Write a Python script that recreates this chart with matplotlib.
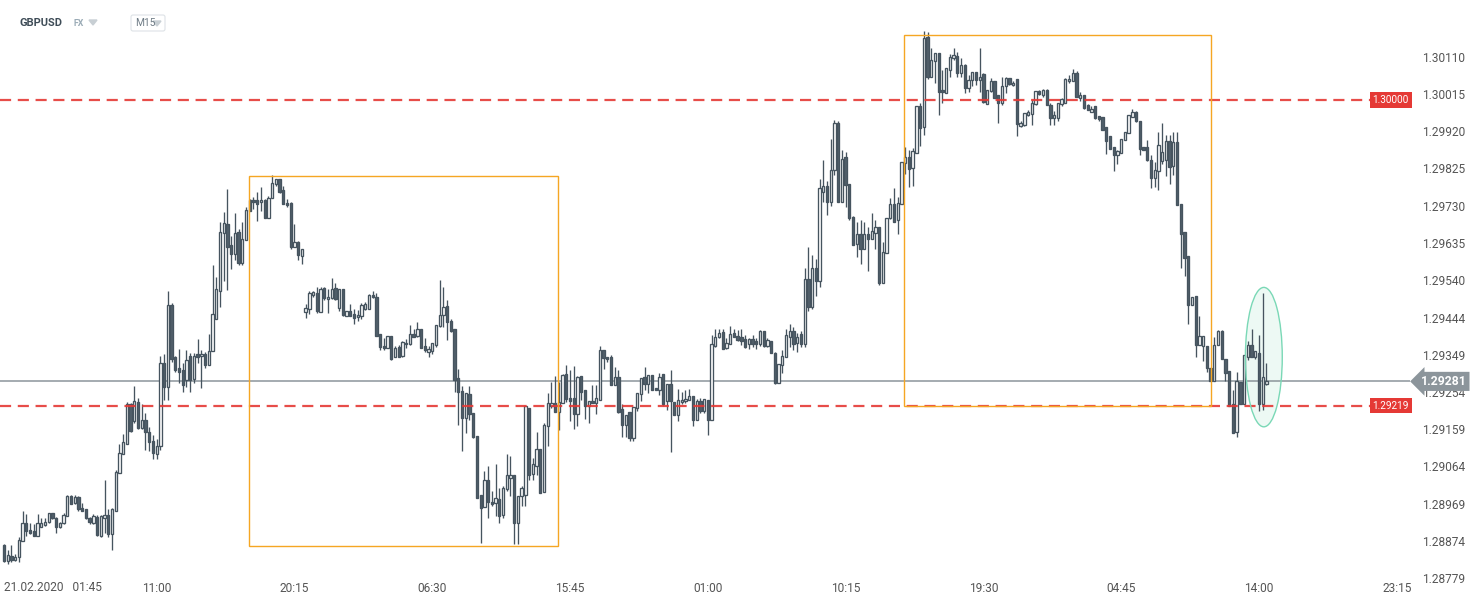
import numpy as np
import matplotlib
matplotlib.use("Agg")
import matplotlib.pyplot as plt
import matplotlib.transforms as mtransforms
from matplotlib.patches import Rectangle, Ellipse, FancyBboxPatch, Polygon

plt.rcParams["font.family"] = ["Roboto", "DejaVu Sans"]

# ---------------- DATA ----------------
# GBPUSD M15 candles, prices stored as points above 1.00000 (1 pt = 0.00001)
open_pts = [
    28862, 28822, 28834, 28824, 28832, 28874, 28919, 28902, 28898, 28887,
    28910, 28915, 28923, 28945, 28931, 28910, 28919, 28937, 28988, 28971,
    28986, 28958, 28954, 28933, 28919, 28935, 28885, 28932, 28940, 28891,
    28950, 29047, 29095, 29120, 29224, 29179, 29228, 29163, 29182, 29153,
    29128, 29096, 29117, 29329, 29267, 29475, 29342, 29315, 29310, 29284,
    29347, 29286, 29350, 29345, 29350, 29323, 29358, 29441, 29511, 29659,
    29682, 29630, 29606, 29663, 29583, 29642, 29743, 29743, 29743, 29738,
    29744, 29699, 29749, 29784, 29799, 29770, 29737, 29736, 29625, 29638,
    29601, 29458, 29467, 29502, 29507, 29458, 29520, 29492, 29495, 29520,
    29468, 29517, 29448, 29462, 29454, 29445, 29448, 29467, 29467, 29502,
    29496, 29401, 29371, 29367, 29396, 29342, 29369, 29345, 29376, 29376,
    29401, 29396, 29416, 29372, 29356, 29359, 29373, 29422, 29450, 29473,
    29435, 29416, 29289, 29257, 29187, 29249, 29200, 29142, 28990, 28960,
    29030, 28974, 28971, 28981, 28941, 29005, 29035, 29043, 28920, 28988,
    28992, 29214, 29045, 29066, 29108, 28998, 29166, 29217, 29227, 29204,
    29227, 29299, 29238, 29238, 29197, 29296, 29259, 29217, 29231, 29227,
    29234, 29362, 29342, 29342, 29272, 29293, 29211, 29169, 29204, 29137,
    29213, 29249, 29291, 29275, 29298, 29264, 29258, 29300, 29230, 29275,
    29229, 29194, 29228, 29230, 29234, 29244, 29183, 29230, 29205, 29234,
    29183, 29372, 29394, 29406, 29366, 29376, 29404, 29397, 29394, 29388,
    29376, 29389, 29383, 29376, 29410, 29372, 29384, 29353, 29278, 29323,
    29343, 29394, 29410, 29380, 29401, 29376, 29543, 29470, 29571, 29537,
    29765, 29781, 29740, 29820, 29942, 29740, 29853, 29784, 29702, 29632,
    29657, 29619, 29657, 29644, 29659, 29676, 29532, 29610, 29698, 29735,
    29692, 29733, 29839, 29853, 29826, 29864, 29985, 29931, 30161, 30058,
    30100, 30119, 30024, 30017, 30076, 30106, 30113, 30068, 30089, 30031,
    30051, 30072, 30051, 30065, 29990, 30023, 30047, 30011, 29991, 30034,
    30055, 30038, 30053, 29932, 29936, 29962, 29964, 29990, 30023, 30013,
    30025, 29987, 29953, 29953, 29989, 29991, 30047, 30048, 30069, 30004,
    30011, 29987, 29970, 29983, 29958, 29957, 29930, 29907, 29879, 29860,
    29864, 29898, 29915, 29957, 29968, 29946, 29879, 29879, 29847, 29801,
    29819, 29843, 29845, 29896, 29830, 29892, 29733, 29663, 29602, 29475,
    29498, 29375, 29371, 29371, 29315, 29282, 29375, 29409, 29337, 29307,
    29223, 29153, 29280, 29223, 29342, 29375, 29343, 29354, 29223, 29274,
]
high_pts = [
    28866, 28851, 28864, 28841, 28883, 28950, 28943, 28920, 28916, 28943,
    28931, 28931, 28946, 28946, 28935, 28923, 28946, 28992, 28990, 28990,
    28988, 28971, 28956, 28936, 28943, 28939, 28939, 29029, 28954, 28958,
    29055, 29122, 29147, 29228, 29226, 29270, 29239, 29224, 29201, 29165,
    29143, 29134, 29345, 29350, 29511, 29480, 29347, 29363, 29327, 29361,
    29354, 29354, 29388, 29361, 29356, 29403, 29579, 29547, 29688, 29714,
    29773, 29652, 29711, 29670, 29689, 29725, 29746, 29752, 29765, 29778,
    29746, 29754, 29807, 29799, 29799, 29780, 29746, 29738, 29684, 29640,
    29618, 29479, 29513, 29511, 29522, 29523, 29523, 29517, 29545, 29532,
    29517, 29517, 29462, 29479, 29467, 29464, 29481, 29484, 29505, 29513,
    29507, 29401, 29392, 29396, 29396, 29371, 29373, 29384, 29389, 29424,
    29416, 29433, 29416, 29393, 29371, 29380, 29424, 29539, 29522, 29489,
    29441, 29416, 29312, 29268, 29252, 29268, 29200, 29142, 28990, 29052,
    29066, 29001, 29069, 29009, 29013, 29096, 29091, 29043, 28988, 29013,
    29217, 29214, 29085, 29153, 29108, 29174, 29252, 29280, 29295, 29280,
    29300, 29323, 29310, 29320, 29295, 29296, 29259, 29231, 29272, 29272,
    29371, 29362, 29342, 29348, 29317, 29311, 29222, 29196, 29204, 29215,
    29251, 29289, 29319, 29297, 29298, 29264, 29302, 29300, 29275, 29311,
    29229, 29261, 29255, 29260, 29261, 29244, 29236, 29239, 29236, 29234,
    29399, 29416, 29416, 29416, 29391, 29422, 29414, 29412, 29416, 29399,
    29391, 29399, 29391, 29412, 29410, 29391, 29384, 29357, 29326, 29361,
    29416, 29427, 29421, 29404, 29410, 29571, 29623, 29604, 29593, 29797,
    29847, 29792, 29901, 29949, 29947, 29873, 29866, 29784, 29704, 29687,
    29692, 29689, 29676, 29710, 29693, 29676, 29637, 29699, 29748, 29775,
    29752, 29841, 29879, 29873, 29877, 29985, 29991, 30175, 30174, 30133,
    30119, 30119, 30076, 30080, 30116, 30133, 30123, 30106, 30091, 30063,
    30072, 30072, 30133, 30068, 30025, 30055, 30047, 30013, 30057, 30057,
    30055, 30048, 30053, 29945, 29966, 29975, 30000, 30023, 30025, 30027,
    30027, 29991, 29972, 29991, 30004, 30055, 30063, 30078, 30074, 30019,
    30011, 29989, 29983, 29983, 29958, 29957, 29930, 29907, 29879, 29873,
    29901, 29919, 29962, 29977, 29972, 29946, 29879, 29898, 29858, 29841,
    29918, 29941, 29911, 29911, 29919, 29918, 29733, 29663, 29602, 29496,
    29500, 29449, 29396, 29371, 29315, 29394, 29413, 29413, 29337, 29307,
    29260, 29305, 29280, 29348, 29384, 29415, 29358, 29400, 29506, 29328,
]
low_pts = [
    28820, 28814, 28819, 28822, 28819, 28874, 28887, 28891, 28885, 28887,
    28908, 28912, 28919, 28929, 28895, 28906, 28916, 28937, 28967, 28968,
    28951, 28950, 28929, 28916, 28916, 28886, 28883, 28895, 28884, 28851,
    28950, 29047, 29095, 29120, 29151, 29176, 29159, 29159, 29107, 29102,
    29084, 29084, 29105, 29234, 29234, 29330, 29306, 29276, 29255, 29267,
    29255, 29276, 29327, 29265, 29314, 29323, 29358, 29441, 29471, 29538,
    29515, 29567, 29591, 29577, 29577, 29642, 29715, 29721, 29691, 29716,
    29699, 29699, 29749, 29780, 29763, 29733, 29725, 29619, 29625, 29591,
    29581, 29443, 29454, 29496, 29456, 29458, 29490, 29456, 29492, 29489,
    29462, 29448, 29448, 29448, 29428, 29434, 29441, 29464, 29467, 29495,
    29397, 29361, 29361, 29367, 29335, 29342, 29342, 29342, 29367, 29373,
    29395, 29395, 29365, 29356, 29342, 29352, 29369, 29420, 29420, 29386,
    29407, 29255, 29170, 29102, 29149, 29183, 29136, 28984, 28869, 28960,
    28933, 28963, 28937, 28920, 28933, 29001, 28988, 28865, 28865, 28963,
    28964, 29030, 29030, 29041, 28997, 28998, 29117, 29212, 29204, 29157,
    29227, 29229, 29181, 29159, 29166, 29234, 29185, 29176, 29225, 29198,
    29234, 29312, 29331, 29272, 29272, 29201, 29139, 29139, 29128, 29130,
    29206, 29232, 29260, 29251, 29260, 29258, 29247, 29217, 29209, 29100,
    29194, 29179, 29222, 29226, 29233, 29168, 29182, 29200, 29200, 29145,
    29183, 29368, 29391, 29364, 29363, 29376, 29394, 29383, 29374, 29366,
    29363, 29370, 29363, 29372, 29370, 29370, 29353, 29275, 29278, 29302,
    29343, 29370, 29361, 29357, 29370, 29370, 29460, 29465, 29500, 29521,
    29740, 29706, 29729, 29809, 29740, 29740, 29727, 29693, 29630, 29599,
    29582, 29619, 29562, 29644, 29619, 29527, 29532, 29610, 29695, 29687,
    29657, 29733, 29811, 29778, 29781, 29864, 29881, 29909, 30053, 30058,
    30042, 29962, 29991, 30017, 30059, 30102, 30059, 30059, 30017, 30021,
    30034, 30038, 30021, 29991, 29990, 30021, 30004, 29941, 29987, 30017,
    30038, 30036, 29907, 29930, 29932, 29958, 29936, 29987, 30013, 30008,
    29987, 29936, 29936, 29945, 29983, 29991, 30044, 30047, 30006, 29997,
    29977, 29975, 29969, 29952, 29947, 29924, 29862, 29875, 29819, 29836,
    29864, 29898, 29915, 29955, 29943, 29860, 29872, 29843, 29775, 29777,
    29769, 29835, 29805, 29784, 29809, 29731, 29570, 29551, 29428, 29475,
    29343, 29375, 29333, 29305, 29282, 29282, 29373, 29337, 29282, 29218,
    29150, 29140, 29223, 29223, 29335, 29343, 29339, 29206, 29208, 29271,
]
close_pts = [
    28822, 28837, 28824, 28832, 28877, 28919, 28900, 28894, 28887, 28919,
    28919, 28923, 28944, 28931, 28910, 28919, 28941, 28988, 28969, 28985,
    28954, 28951, 28932, 28923, 28937, 28889, 28938, 28939, 28891, 28954,
    29050, 29098, 29126, 29224, 29154, 29231, 29161, 29182, 29151, 29126,
    29098, 29117, 29329, 29267, 29475, 29337, 29310, 29306, 29272, 29335,
    29284, 29347, 29344, 29352, 29323, 29358, 29452, 29516, 29663, 29685,
    29623, 29606, 29660, 29583, 29644, 29719, 29716, 29738, 29735, 29743,
    29699, 29750, 29787, 29799, 29765, 29735, 29731, 29623, 29638, 29604,
    29618, 29469, 29507, 29510, 29461, 29518, 29494, 29496, 29517, 29492,
    29517, 29450, 29462, 29448, 29444, 29451, 29477, 29479, 29502, 29496,
    29397, 29369, 29367, 29396, 29337, 29367, 29342, 29382, 29380, 29401,
    29395, 29416, 29367, 29361, 29363, 29378, 29424, 29451, 29471, 29433,
    29409, 29284, 29255, 29187, 29252, 29198, 29139, 28984, 28958, 29030,
    28973, 28969, 28984, 28937, 29009, 29041, 29041, 28920, 28988, 29009,
    29217, 29041, 29069, 29108, 28997, 29170, 29225, 29227, 29204, 29229,
    29297, 29235, 29232, 29197, 29293, 29255, 29217, 29231, 29225, 29238,
    29362, 29340, 29337, 29272, 29293, 29204, 29169, 29196, 29137, 29215,
    29251, 29289, 29275, 29297, 29260, 29258, 29292, 29222, 29275, 29230,
    29194, 29233, 29234, 29236, 29244, 29182, 29230, 29205, 29236, 29182,
    29376, 29395, 29404, 29364, 29380, 29401, 29395, 29387, 29383, 29370,
    29388, 29376, 29377, 29410, 29372, 29387, 29353, 29277, 29326, 29346,
    29399, 29410, 29376, 29395, 29376, 29543, 29470, 29571, 29537, 29774,
    29781, 29740, 29820, 29942, 29740, 29850, 29782, 29699, 29630, 29657,
    29620, 29657, 29644, 29664, 29676, 29532, 29612, 29699, 29735, 29689,
    29737, 29841, 29853, 29824, 29869, 29985, 29928, 30158, 30058, 30102,
    30119, 30021, 30019, 30080, 30110, 30114, 30068, 30089, 30031, 30051,
    30070, 30051, 30059, 29994, 30025, 30047, 30004, 29991, 30036, 30055,
    30040, 30044, 29939, 29942, 29966, 29969, 29991, 30023, 30015, 30025,
    29987, 29953, 29960, 29991, 30002, 30053, 30053, 30069, 30008, 30013,
    29980, 29975, 29977, 29953, 29951, 29924, 29896, 29875, 29858, 29869,
    29901, 29919, 29962, 29968, 29945, 29875, 29872, 29846, 29801, 29822,
    29885, 29867, 29894, 29828, 29891, 29731, 29657, 29597, 29475, 29496,
    29375, 29396, 29396, 29315, 29282, 29375, 29409, 29337, 29303, 29218,
    29150, 29282, 29223, 29348, 29373, 29343, 29358, 29223, 29291, 29281,
]

time_labels = ["11:00", "20:15", "06:30", "15:45", "01:00",
               "10:15", "19:30", "04:45", "14:00", "23:15"]
first_label = "21.02.2020   01:45"
first_tick = 41          # candle index of the 11:00 label
tick_step = 37           # 9h15m of 15-minute candles

price_ticks = [1.30110, 1.30015, 1.29920, 1.29825, 1.29730, 1.29635, 1.29540,
               1.29444, 1.29349, 1.29254, 1.29159, 1.29064, 1.28969, 1.28874,
               1.28779]
levels = [1.30000, 1.29219]
last_price = 1.29281

# boxes drawn on the chart: (start idx, end idx, top, bottom)
zones = [(65.8, 148.8, 1.29805, 1.28861),
         (241.7, 324.1, 1.30166, 1.29219)]
# highlighted spike: centre idx, centre price, width (candles), height
spike = (338.3, 1.29343, 9.9, 0.00356)

# ---------------- PREP ----------------
def to_price(pts):
    return 1 + np.array(pts) / 1e5

o = to_price(open_pts)
h = to_price(high_pts)
l = to_price(low_pts)
c = to_price(close_pts)
idx = np.arange(len(o))

CANDLE = "#46545f"
RED = "#e53935"
ORANGE = "#f5a623"
GREY = "#8c959b"
TXT = "#555555"

# ---------------- FIGURE ----------------
fig = plt.figure(figsize=(14.82, 6.04), dpi=100)
ax = fig.add_axes([0, 26 / 604, 1410 / 1482, 578 / 604])
ax.set_xlim(-1.07, 377.55)
ax.set_ylim(1.287821, 1.302548)
for s in ax.spines.values():
    s.set_visible(False)

# current price line (behind candles)
ax.axhline(last_price, color=GREY, lw=1.1, zorder=1)

# spike highlight
cx, cy, ew, eh = spike
ax.add_patch(Ellipse((cx, cy), ew, eh, facecolor="#e9f8f2", edgecolor="none",
                     alpha=0.8, zorder=0.5))

# candles
ax.vlines(idx, l, h, color=CANDLE, lw=0.95, zorder=2)
up = c >= o
body_bot = np.minimum(o, c)
body_h = np.maximum(np.abs(c - o), 0.00003)
ax.bar(idx[up], body_h[up], bottom=body_bot[up], width=0.62,
       facecolor="white", edgecolor=CANDLE, linewidth=0.95, zorder=3)
ax.bar(idx[~up], body_h[~up], bottom=body_bot[~up], width=0.62,
       facecolor="#515f6a", edgecolor=CANDLE, linewidth=0.95, zorder=3)

# support / resistance levels
for lv in levels:
    ax.axhline(lv, color=RED, lw=1.6, dashes=(5, 3), alpha=0.9, zorder=4)

# zones
for x0, x1, top, bot in zones:
    ax.add_patch(Rectangle((x0, bot), x1 - x0, top - bot, fill=False,
                           edgecolor=ORANGE, lw=1.0, zorder=5))

ax.add_patch(Ellipse((cx, cy), ew, eh, facecolor="none", edgecolor="#7ad8b6",
                     lw=1.0, zorder=6))

# price labels
blend = mtransforms.blended_transform_factory(ax.transAxes, ax.transData)
for lv in levels:
    ax.text(0.9993, lv, f"{lv:.5f}", transform=blend, ha="right", va="center",
            color="white", fontsize=7.2, clip_on=False, zorder=10,
            bbox=dict(boxstyle="square,pad=0.28", fc=RED, ec="none"))
ax.text(1.0075, last_price, f"{last_price:.5f}", transform=blend, ha="left",
        va="center", color="white", fontsize=8.8, fontweight="bold",
        clip_on=False, zorder=10,
        bbox=dict(boxstyle="larrow,pad=0.25", fc=GREY, ec="none"))

# axes ticks
ax.yaxis.tick_right()
ax.set_yticks(price_ticks)
ax.set_yticklabels([f"{t:.5f}" for t in price_ticks])
ax.tick_params(axis="y", length=0, pad=9, labelsize=8.6, labelcolor=TXT)
ax.set_xticks([first_tick + tick_step * k for k in range(len(time_labels))])
ax.set_xticklabels(time_labels)
ax.tick_params(axis="x", length=0, pad=3, labelsize=8.6, labelcolor=TXT)
xblend = mtransforms.blended_transform_factory(ax.transData, ax.transAxes)
ax.text(0, -0.005, first_label, transform=xblend, ha="left", va="top",
        fontsize=8.6, color=TXT, clip_on=False)

# ---------------- HEADER ----------------
hdr = fig.add_axes([0, 0, 1, 1], zorder=20)
hdr.set_xlim(0, 1482)
hdr.set_ylim(604, 0)
hdr.axis("off")
hdr.text(20, 23, "GBPUSD", fontsize=8, fontweight="bold", color="#3e4c57",
         va="center", ha="left")
hdr.text(74, 24, "FX", fontsize=6.3, fontweight="bold", color="#9aabb6",
         va="center", ha="left")
hdr.add_patch(Polygon([[89, 20], [97, 20], [93, 25]], color="#c8cfd4"))
hdr.add_patch(FancyBboxPatch((131, 15), 34, 16, boxstyle="round,pad=0,rounding_size=2",
                             fc="white", ec="#dde2e6", lw=0.8))
hdr.text(135, 23.5, "M15", fontsize=7.4, color="#6f7c86", va="center", ha="left")
hdr.add_patch(Polygon([[153, 21], [161, 21], [157, 26]], color="#c8cfd4"))

fig.savefig("out.png", dpi=100, facecolor="white")
